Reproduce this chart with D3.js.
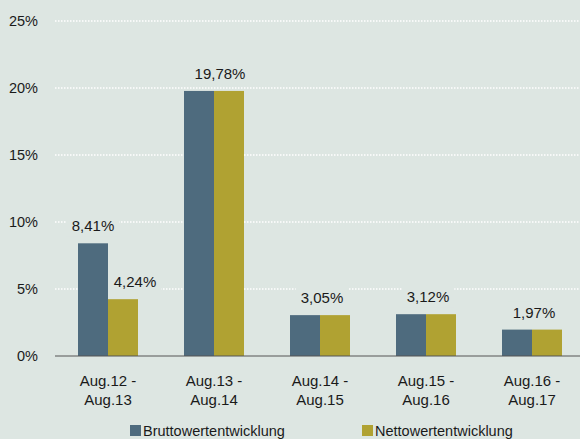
<!DOCTYPE html>
<html>
<head>
<meta charset="utf-8">
<script src="https://cdn.jsdelivr.net/npm/d3@7"></script>
<style>
  body { margin: 0; background: #dde6e2; }
  svg { display: block; font-family: "Liberation Sans", Arial, sans-serif; }
</style>
</head>
<body>
<svg id="chart_svg" width="580" height="439"></svg>
<script>
const categories = ['Aug.12 -|Aug.13', 'Aug.13 -|Aug.14', 'Aug.14 -|Aug.15', 'Aug.15 -|Aug.16', 'Aug.16 -|Aug.17'];
const brutto = [8.41, 19.78, 3.05, 3.12, 1.97];
const netto = [4.24, 19.78, 3.05, 3.12, 1.97];
const seriesNames = ['Bruttowertentwicklung', 'Nettowertentwicklung'];
const yTicks = [0, 5, 10, 15, 20, 25];

const colors = ['#4e6b7e', '#b0a232'];
const bg = '#dde6e2';

const svg = d3.select('#chart_svg');

/**
 * Scales
 */
const xScale = d3.scaleBand().domain(categories).range([55, 585]);
const yScale = d3.scaleLinear().domain([0, 25]).range([356, 21]);
const barW = 30;

/**
 * Gridlines (dotted white)
 */
svg.append('g')
    .selectAll('line')
    .data(yTicks.filter((d) => d > 0))
    .enter()
    .append('line')
    .attr('x1', 55)
    .attr('x2', 580)
    .attr('y1', (d) => yScale(d))
    .attr('y2', (d) => yScale(d))
    .attr('stroke', '#ffffff')
    .attr('stroke-width', 1.5)
    .attr('stroke-dasharray', '1.5,1.5');

/**
 * Y tick labels
 */
svg.append('g')
    .selectAll('text')
    .data(yTicks)
    .enter()
    .append('text')
    .attr('x', 38)
    .attr('y', (d) => yScale(d) + 5)
    .attr('text-anchor', 'end')
    .attr('font-size', 14.5)
    .attr('fill', '#1a1a1a')
    .text((d) => d + '%');

/**
 * Bars
 */
const rows = categories.map((c, i) => ({ cat: c, vals: [brutto[i], netto[i]] }));
const g_bars = svg.append('g');
rows.forEach((r) => {
    const cx = xScale(r.cat) + xScale.bandwidth() / 2;
    r.vals.forEach((v, j) => {
        g_bars.append('rect')
            .attr('x', cx - barW + j * barW)
            .attr('width', barW)
            .attr('y', yScale(v))
            .attr('height', yScale(0) - yScale(v))
            .attr('fill', colors[j]);
    });
});

/**
 * Value labels with background boxes that hide the gridlines
 */
const fmt = (v) => v.toFixed(2).replace('.', ',') + '%';
const labels = [];
rows.forEach((r, i) => {
    const cx = xScale(r.cat) + xScale.bandwidth() / 2;
    if (r.vals[0] === r.vals[1]) {
        labels.push({ x: cx + (i === 1 ? 6 : 2), v: r.vals[0] });
    } else {
        labels.push({ x: cx - barW / 2, v: r.vals[0] });
        labels.push({ x: cx + barW / 2 + 12, v: r.vals[1] });
    }
});
const g_labels = svg.append('g');
labels.forEach((l) => {
    const y = yScale(l.v) - 12;
    const t = g_labels.append('text')
        .attr('x', l.x)
        .attr('y', y)
        .attr('text-anchor', 'middle')
        .attr('font-size', 15)
        .attr('fill', '#1a1a1a')
        .text(fmt(l.v));
    const bb = t.node().getBBox();
    g_labels.insert('rect', () => t.node())
        .attr('x', bb.x - 5)
        .attr('y', bb.y - 2)
        .attr('width', bb.width + 10)
        .attr('height', bb.height + 4)
        .attr('fill', bg);
});

/**
 * Baseline
 */
svg.append('line')
    .attr('x1', 55)
    .attr('x2', 580)
    .attr('y1', yScale(0))
    .attr('y2', yScale(0))
    .attr('stroke', '#555555')
    .attr('stroke-width', 1);

/**
 * X category labels (two lines)
 */
const g_x = svg.append('g');
categories.forEach((c) => {
    const cx = xScale(c) + xScale.bandwidth() / 2;
    c.split('|').forEach((line, k) => {
        g_x.append('text')
            .attr('x', cx)
            .attr('y', 386 + k * 19)
            .attr('text-anchor', 'middle')
            .attr('font-size', 15)
            .attr('fill', '#1a1a1a')
            .text(line);
    });
});

/**
 * Legend
 */
const legendX = [130, 362];
const g_legend = svg.append('g');
seriesNames.forEach((name, i) => {
    g_legend.append('rect')
        .attr('x', legendX[i])
        .attr('y', 425)
        .attr('width', 11)
        .attr('height', 11)
        .attr('fill', colors[i]);
    g_legend.append('text')
        .attr('x', legendX[i] + 13)
        .attr('y', 436)
        .attr('font-size', 14.5)
        .attr('fill', '#1a1a1a')
        .text(name);
});
</script>
</body>
</html>
